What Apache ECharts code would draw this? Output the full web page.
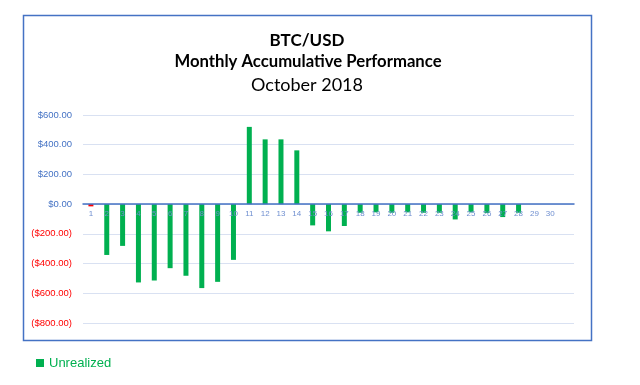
<!DOCTYPE html>
<html>
<head>
<meta charset="utf-8">
<script src="https://cdn.jsdelivr.net/npm/echarts@6/dist/echarts.min.js"></script>
<style>
html,body{margin:0;padding:0;background:#fff;}
#c{width:640px;height:385px;}
</style>
</head>
<body>
<div id="c"></div>
<script>
var days = ['1','2','3','4','5','6','7','8','9','10','11','12','13','14','15','16','17','18','19','20','21','22','23','24','25','26','27','28','29','30',''];
var unrealized = [-15,-342,-281,-527,-514,-431,-482,-565,-523,-375,520,436,436,362,-143,-183,-147,-58,-55,-58,-55,-58,-58,-103,-55,-60,-87,-58,null,null,null];
var yTicks = [600,400,200,0,-200,-400,-600,-800];
var seriesName = 'Unrealized';
var titleLines = ['BTC/USD','Monthly Accumulative Performance','October 2018'];

var yMin = yTicks[yTicks.length-1], yMax = yTicks[0];
var gridTop = 115, gridH = 208;
var zeroOffset = -(gridH * (0 - yMin) / (yMax - yMin));

var chart = echarts.init(document.getElementById('c'), null, {renderer:'canvas'});
function fmt(v){
  if (v >= 0) return '{p|$' + v.toFixed(2) + '}';
  return '{n|($' + (-v).toFixed(2) + ')}';
}
var barData = unrealized.map(function(v, i){
  if (v === null) return null;
  if (i === 0) return {value: v, itemStyle:{color:'#FF0000'}};
  return v;
});
chart.setOption({
  animation:false,
  grid:{left:83, right:66, top:gridTop, height:gridH, containLabel:false},
  graphic:[
    {type:'rect', shape:{x:23.5,y:15.5,width:568,height:325}, style:{fill:'none',stroke:'#4472C4',lineWidth:1.5}, z:-1},
    {type:'text', style:{text:titleLines[0], x:307, y:41, textAlign:'center', textVerticalAlign:'middle', font:'bold 17px Lato', fill:'#000'}},
    {type:'text', style:{text:titleLines[1], x:308, y:62, textAlign:'center', textVerticalAlign:'middle', font:'bold 16.7px Lato', fill:'#000'}},
    {type:'text', style:{text:titleLines[2], x:307, y:85, textAlign:'center', textVerticalAlign:'middle', font:'18px Lato', fill:'#000'}},
    {type:'rect', shape:{x:36,y:359,width:8,height:8}, style:{fill:'#00B050'}},
    {type:'text', style:{text:seriesName, x:49, y:363, textVerticalAlign:'middle', font:'13px "Liberation Sans"', fill:'#00B050'}}
  ],
  xAxis:{
    type:'category', data:days, z:5, position:'bottom', offset:zeroOffset,
    axisLine:{onZero:false, lineStyle:{color:'#4472C4', width:1.5}},
    axisTick:{show:false},
    axisLabel:{interval:0, color:'#6F8FD0', fontSize:8, fontFamily:'Liberation Sans', margin:6}
  },
  yAxis:{
    type:'value', min:yMin, max:yMax, interval:200,
    axisLine:{show:false}, axisTick:{show:false},
    splitLine:{lineStyle:{color:'#D9E1F2', width:1}},
    axisLabel:{margin:11, formatter:fmt,
      rich:{p:{color:'#4472C4', fontSize:9.5, fontFamily:'Liberation Sans'}, n:{color:'#FF0000', fontSize:9.5, fontFamily:'Liberation Sans'}}}
  },
  series:[{type:'bar', name:seriesName, data:barData, barWidth:5, itemStyle:{color:'#00B050'}}]
});
</script>
</body>
</html>
